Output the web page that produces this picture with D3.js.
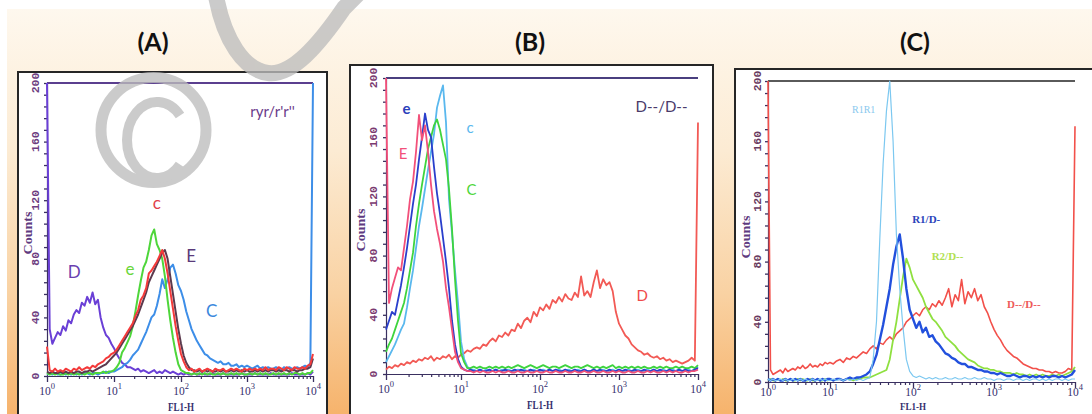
<!DOCTYPE html>
<html>
<head>
<meta charset="utf-8">
<script src="https://cdn.jsdelivr.net/npm/d3@7"></script>
<style>
  html, body { margin: 0; padding: 0; background: #fff; }
  svg { display: block; }
</style>
</head>
<body>
<svg id="chart" width="1092" height="414"></svg>
<script>
// ---------- DATA ----------
// histogram bins: log10(FL1-H) of each channel, 0 .. 4
const CHANNELS = d3.range(101).map(i => +(i * 0.04).toFixed(2));
const DECADES = [1, 10, 100, 1000, 10000];
const X_EXPONENTS = ["0", "1", "2", "3", "4"];
const Y_TICKS = [0, 40, 80, 120, 160, 200];
const PANEL_TITLES = ["(A)", "(B)", "(C)"];

// Panel A : ryr/r'r''
const A_D = [200,32,22,26,30,28,34,31,38,36, 42,45,43,50,48,54,50,57,49,52, 40,33,28,26,22,19,15,12,9,8, 6,6,5,4,5,3,4,3,2,3, 4,2,3,2,4,3,2,3,2,1, 2,1,2,1,1,2,1,1,2,1, 1,1,2,1,1,1,2,1,1,1, 1,1,1,2,1,1,1,1,2,1, 1,1,1,1,2,1,1,1,1,1, 1,1,2,1,1,1,1,1,2,1,3];
const A_C = [1,2,1,2,1,1,2,1,2,1, 2,1,2,1,2,2,1,2,2,1, 2,2,3,2,3,3,4,5,6,8, 9,11,14,16,18,22,26,30,35,40, 42,48,56,66,60,66,74,76,70,62, 58,52,44,38,32,28,24,21,18,15, 14,12,11,10,9,10,8,8,9,7, 7,8,6,7,6,7,6,5,6,7, 5,6,5,6,5,5,6,5,4,6, 5,6,5,5,6,5,6,7,6,9,200];
const A_e = [2,1,2,1,2,1,1,2,1,2, 1,2,1,2,1,2,2,1,2,2, 2,3,2,3,3,4,6,9,16,19, 23,27,34,44,55,65,74,78,86,96, 100,90,86,80,68,52,38,26,16,8, 4,3,2,2,1,2,1,2,1,2, 1,2,1,1,2,1,2,1,1,2, 1,2,1,2,1,1,2,1,2,1, 2,1,2,1,1,2,1,2,1,2, 1,2,1,2,2,1,2,1,2,2,4];
const A_E = [3,2,3,2,2,3,2,3,2,3, 2,3,3,2,3,3,4,3,4,5, 6,7,8,10,12,14,16,19,22,25, 28,31,34,38,42,47,52,57,64,68, 72,76,80,84,86,80,68,56,44,32, 22,14,9,6,4,4,3,4,3,4, 3,4,3,3,4,3,4,3,3,4, 3,4,3,4,3,4,3,3,4,3, 4,3,4,3,4,4,3,4,3,4, 4,3,4,4,3,4,4,5,5,6,12];
const A_c = [20,4,3,5,3,4,3,5,4,3, 5,4,6,4,5,6,5,7,6,8, 9,10,12,13,15,16,18,21,24,27, 30,33,36,41,45,52,55,60,70,72, 75,78,82,86,80,70,58,46,34,24, 15,10,6,4,5,3,4,5,3,4, 5,4,3,5,4,4,5,3,4,5, 4,5,4,3,5,4,5,4,5,4, 5,4,6,4,5,5,4,6,5,4, 6,5,4,6,5,5,6,5,7,8,15];

// Panel B : D--/D--
const B_D = [3,5,4,6,5,7,6,8,7,9, 8,10,9,11,10,12,9,11,10,12, 11,13,10,12,11,13,14,16,15,17, 18,17,20,19,22,24,22,26,25,28, 26,30,29,34,31,36,38,35,42,39, 45,43,47,44,50,48,52,49,54,51, 50,55,52,66,53,56,52,62,70,58, 64,60,62,56,42,34,30,26,24,20, 18,16,15,13,14,12,11,12,10,11, 9,10,8,9,8,7,8,9,11,9,170];
const B_c = [8,12,16,20,25,30,34,45,58,70, 85,100,112,125,138,150,162,180,188,195, 170,118,95,70,48,22,10,5,3,3, 2,3,2,3,2,2,3,2,3,2, 3,2,2,3,2,3,2,2,3,2, 2,3,2,3,2,2,3,2,2,3, 2,2,3,2,3,2,2,3,2,2, 3,2,2,3,2,3,2,2,3,2, 2,3,2,2,3,2,3,2,2,3, 2,2,3,2,3,2,2,3,2,3,5];
const B_C = [15,20,24,30,36,42,48,58,70,82, 100,115,128,140,152,160,168,172,165,155, 145,125,98,64,36,14,8,4,4,5, 4,5,4,4,5,4,5,4,5,4, 5,4,5,6,5,4,5,6,5,4, 5,6,5,4,5,5,4,5,6,5, 4,5,5,4,5,6,5,4,5,4, 5,4,5,6,4,5,4,5,4,5, 4,5,4,5,4,4,5,4,5,4, 5,4,4,5,4,5,4,4,5,4,6];
const B_e = [30,36,42,40,50,60,72,85,100,115, 128,145,160,176,165,160,140,122,108,92, 76,58,36,20,10,5,3,2,3,2, 2,3,2,2,3,2,3,2,2,3, 2,2,3,2,3,2,2,3,2,2, 3,2,2,3,2,3,2,2,3,2, 2,3,2,2,3,2,2,3,2,3, 2,2,3,2,2,3,2,3,2,2, 3,2,2,3,2,2,3,2,3,2, 2,3,2,2,3,2,3,2,2,3,4];
const B_E = [200,48,58,65,72,70,85,100,118,130, 150,175,158,168,150,128,110,98,88,76, 58,45,30,15,8,4,3,2,2,1, 2,1,2,1,1,2,1,2,1,1, 2,1,1,2,1,1,2,1,1,2, 1,1,2,1,1,2,1,1,2,1, 1,2,1,1,2,1,1,2,1,1, 2,1,1,2,1,2,1,1,2,1, 1,2,1,1,2,1,2,1,1,2, 1,2,1,2,1,1,2,1,2,2,3];

// Panel C
const C_DD = [200,8,5,6,7,8,6,9,7,8, 9,8,10,9,11,9,10,12,10,11, 10,12,11,13,12,13,12,14,15,13, 16,15,17,16,18,20,19,22,24,22, 26,25,28,30,28,32,34,36,40,42, 44,46,44,48,50,48,52,50,54,51, 56,62,50,58,54,68,52,60,56,62, 54,58,50,46,40,35,31,28,24,21, 19,17,16,14,12,11,10,9,9,8, 8,7,7,6,7,6,6,7,9,8,170];
const C_R2D = [1,2,1,1,2,1,2,1,1,2, 1,1,2,1,2,1,1,2,1,1, 2,1,1,2,1,2,1,2,2,1, 2,2,1,2,2,3,3,3,4,5, 6,7,8,15,28,40,55,70,82,76, 68,64,60,56,50,46,42,40,37,34, 30,28,26,24,21,19,17,15,14,13, 11,10,9,9,8,8,7,7,6,6, 6,5,6,5,5,4,5,4,5,4, 5,4,4,5,4,5,4,5,6,7,10];
const C_R1D = [2,1,2,1,2,1,1,2,1,2, 1,2,1,2,1,1,2,1,2,1, 2,1,2,1,2,2,1,2,2,1, 2,3,2,3,3,4,5,7,12,18, 28,38,50,62,78,90,98,82,62,48, 42,36,40,33,36,30,31,27,25,22, 19,18,16,15,13,12,12,10,10,9, 8,8,7,7,6,6,5,6,5,4, 4,5,4,3,4,4,3,4,3,4, 3,4,3,4,4,3,4,3,4,5,8];
const C_R1R1 = [2,1,2,1,1,2,1,2,1,1, 2,1,1,2,1,2,1,1,2,1, 1,2,1,2,1,1,2,1,2,1, 2,1,2,1,2,1,2,3,15,40, 95,145,180,200,160,98,62,36,15,7, 4,3,4,3,2,3,2,3,2,2, 3,2,2,3,2,2,3,2,2,3, 2,2,3,2,2,1,2,2,1,2, 2,1,2,2,1,2,1,2,2,1, 2,1,2,1,2,2,1,2,1,2,2];

const A_LABELS = ["ryr/r'r''", "D", "e", "c", "E", "C"];
const B_LABELS = ["D--/D--", "e", "E", "c", "C", "D"];
const C_LABELS = ["R1R1", "R1/D-", "R2/D--", "D--/D--"];

// ---------- LAYOUT / STYLE ----------
const W = 1092, H = 414;
const svg = d3.select("#chart");
const defs = svg.append("defs");
const grad = defs.append("linearGradient").attr("id", "bg")
  .attr("x1", 0).attr("y1", 0).attr("x2", 0).attr("y2", 1);
[[0, "#fef8ee"], [0.35, "#fcebd3"], [0.7, "#f9d2a3"], [1, "#f6b36c"]]
  .forEach(([o, c]) => grad.append("stop").attr("offset", o).attr("stop-color", c));

svg.append("rect").attr("width", W).attr("height", H).attr("fill", "#fff");
svg.append("rect").attr("x", 7).attr("y", 9).attr("width", W - 7).attr("height", H - 9).attr("fill", "url(#bg)");

const SERIF = "'Liberation Serif', 'DejaVu Serif', serif";
const SANS = "Lato, 'Open Sans', sans-serif";
const MONO = "'Liberation Mono', 'DejaVu Sans Mono', monospace";

const panels = [
  {
    title: PANEL_TITLES[0], titleX: 153,
    box: [18, 72, 309], xr: [47, 114, 181, 247, 313], yr: [376, 83],
    frame: "#5b3f8f", ylabX: 35, ylabColor: "#6d3c80", countsX: 27, countsY: 233,
    xlabY: 395, flY: 411, flSize: 12,
    series: [
      { v: A_D, c: "#6a3fd6", w: 2 },
      { v: A_C, c: "#3d8ee8", w: 2 },
      { v: A_e, c: "#4ed63a", w: 2 },
      { v: A_E, c: "#5c3a4e", w: 2 },
      { v: A_c, c: "#f43a3a", w: 2 }
    ],
    labels: [
      { t: A_LABELS[0], lx: 3.05, c: 177, col: "#6a3a8a", f: SANS, s: 15, wt: 400 },
      { t: A_LABELS[1], lx: 0.31, c: 67, col: "#6a3fb0", f: SANS, s: 17, wt: 400 },
      { t: A_LABELS[2], lx: 1.17, c: 69, col: "#6ad63a", f: SANS, s: 17, wt: 400 },
      { t: A_LABELS[3], lx: 1.58, c: 114, col: "#e0404a", f: SANS, s: 17, wt: 400 },
      { t: A_LABELS[4], lx: 2.08, c: 78, col: "#5a3a7a", f: SANS, s: 17, wt: 400 },
      { t: A_LABELS[5], lx: 2.38, c: 40, col: "#3a88dd", f: SANS, s: 17, wt: 400 }
    ]
  },
  {
    title: PANEL_TITLES[1], titleX: 530,
    box: [350, 65, 363], xr: [386, 461, 540, 619, 698], yr: [374, 78],
    frame: "#4a3f7f", ylabX: 373, ylabColor: "#7a3a70", countsX: 360, countsY: 230,
    xlabY: 393, flY: 409, flSize: 12,
    series: [
      { v: B_D, c: "#f25a55", w: 1.8 },
      { v: B_c, c: "#5ab8ee", w: 1.8 },
      { v: B_C, c: "#3ed43e", w: 1.8 },
      { v: B_e, c: "#2a3fcc", w: 1.8 },
      { v: B_E, c: "#f2507a", w: 1.8 }
    ],
    labels: [
      { t: B_LABELS[0], lx: 3.21, c: 177, col: "#4a3a6a", f: SANS, s: 15, wt: 400 },
      { t: B_LABELS[1], lx: 0.22, c: 176, col: "#2a3fbb", f: SANS, s: 15, wt: 700 },
      { t: B_LABELS[2], lx: 0.17, c: 145, col: "#f2507a", f: SANS, s: 15, wt: 400 },
      { t: B_LABELS[3], lx: 1.07, c: 163, col: "#5ab8ee", f: SANS, s: 15, wt: 400 },
      { t: B_LABELS[4], lx: 1.07, c: 121, col: "#4ed63a", f: SANS, s: 15, wt: 400 },
      { t: B_LABELS[5], lx: 3.22, c: 49, col: "#f04a4a", f: SANS, s: 15, wt: 400 }
    ]
  },
  {
    title: PANEL_TITLES[2], titleX: 915,
    box: [735, 69, 400], xr: [768, 830, 913, 994, 1075], yr: [382, 81],
    frame: "#5a5a5a", ylabX: 757, ylabColor: "#6a3a60", countsX: 745, countsY: 237,
    xlabY: 396, flY: 410, flSize: 10,
    series: [
      { v: C_DD, c: "#f2504a", w: 1.6 },
      { v: C_R2D, c: "#8fe040", w: 1.8 },
      { v: C_R1D, c: "#2250dd", w: 2.4 },
      { v: C_R1R1, c: "#7cc8f0", w: 1.2 }
    ],
    labels: [
      { t: C_LABELS[0], lx: 1.265, c: 179, col: "#88c8ee", f: SERIF, s: 10, wt: 400 },
      { t: C_LABELS[1], lx: 1.99, c: 105.5, col: "#2a44bb", f: SERIF, s: 11, wt: 700 },
      { t: C_LABELS[2], lx: 2.23, c: 81, col: "#b0e050", f: SERIF, s: 11, wt: 700 },
      { t: C_LABELS[3], lx: 3.16, c: 49, col: "#ee5a5a", f: SERIF, s: 11, wt: 700 }
    ]
  }
];

const X_MINOR = [];
[1, 10, 100, 1000].forEach(d => { for (let m = 2; m <= 9; m++) X_MINOR.push(m * d); });
const Y_MINOR = d3.range(0, 201, 8);

function drawPanel(p) {
  const g = svg.append("g");
  // title
  svg.append("text").attr("x", p.titleX).attr("y", 51).attr("text-anchor", "middle")
    .attr("font-family", SANS).attr("font-weight", 700).attr("font-size", 25)
    .attr("fill", "#111").text(p.title);
  // outer framed box
  g.append("rect").attr("x", p.box[0]).attr("y", p.box[1]).attr("width", p.box[2]).attr("height", 460)
    .attr("fill", "#fff").attr("stroke", "#262626").attr("stroke-width", 2);

  const x = d3.scaleLog().domain(DECADES).range(p.xr);
  const y = d3.scaleLinear().domain([0, 200]).range(p.yr).clamp(true);

  // top frame
  g.append("line").attr("x1", x(1)).attr("x2", x(1e4)).attr("y1", y(200)).attr("y2", y(200))
    .attr("stroke", p.frame).attr("stroke-width", 2);

  // y axis
  const ya = g.append("g").attr("transform", `translate(${x(1)},0)`)
    .call(d3.axisLeft(y).tickValues(Y_MINOR).tickSize(3).tickSizeOuter(0).tickFormat(""));
  ya.select(".domain").attr("stroke", "#3a3060").attr("stroke-width", 1.2);
  ya.selectAll(".tick line").attr("stroke", "#3a3060").attr("stroke-width", 1.3);

  // x axis
  const xa1 = g.append("g").attr("transform", `translate(0,${y(0)})`)
    .call(d3.axisBottom(x).tickValues(X_MINOR).tickSize(3).tickSizeOuter(0).tickFormat(""));
  xa1.select(".domain").attr("stroke", "#3a3060").attr("stroke-width", 1.2);
  xa1.selectAll(".tick line").attr("stroke", "#3a3060").attr("stroke-width", 1.2);
  const xa2 = g.append("g").attr("transform", `translate(0,${y(0)})`)
    .call(d3.axisBottom(x).tickValues(DECADES).tickSize(6).tickSizeOuter(0).tickFormat(""));
  xa2.select(".domain").remove();
  xa2.selectAll(".tick line").attr("stroke", "#3a3060").attr("stroke-width", 1.3);

  // y tick labels (rotated)
  g.selectAll(".ylab").data(Y_TICKS).join("text")
    .attr("transform", d => `translate(${p.ylabX},${y(d)}) rotate(-90)`)
    .attr("dy", "0.35em").attr("text-anchor", "middle")
    .attr("font-family", MONO).attr("font-weight", 700).attr("font-size", 11.5)
    .attr("fill", p.ylabColor).text(d => d);

  // Counts
  g.append("text").attr("transform", `translate(${p.countsX},${p.countsY}) rotate(-90)`)
    .attr("dy", "0.35em").attr("text-anchor", "middle")
    .attr("font-family", SERIF).attr("font-weight", 700).attr("font-size", 13)
    .attr("textLength", 43).attr("lengthAdjust", "spacingAndGlyphs")
    .attr("fill", "#5e3a80").text("Counts");

  // x tick labels 10^k
  const xl = g.selectAll(".xlab").data(DECADES).join("text")
    .attr("x", d => x(d)).attr("y", p.xlabY).attr("text-anchor", "middle")
    .attr("font-family", SERIF).attr("font-size", 11.5).attr("fill", "#35306e");
  xl.append("tspan").text("10");
  xl.append("tspan").attr("dy", -6).attr("font-size", 8.5).text((d, i) => X_EXPONENTS[i]);

  // FL1-H
  g.append("text").attr("x", x(100)).attr("y", p.flY).attr("text-anchor", "middle")
    .attr("font-family", SERIF).attr("font-weight", 700).attr("font-size", p.flSize)
    .attr("textLength", 26).attr("lengthAdjust", "spacingAndGlyphs")
    .attr("fill", "#35306e").text("FL1-H");

  // histogram curves
  const line = d3.line()
    .x((d, i) => x(Math.pow(10, CHANNELS[i])))
    .y(d => y(d));
  p.series.forEach(s => {
    g.append("path").attr("d", line(s.v)).attr("fill", "none")
      .attr("stroke", s.c).attr("stroke-width", s.w)
      .attr("stroke-linejoin", "round").attr("stroke-linecap", "butt");
  });

  // curve labels
  p.labels.forEach(l => {
    g.append("text").attr("x", x(Math.pow(10, l.lx))).attr("y", y(l.c))
      .attr("font-family", l.f).attr("font-size", l.s).attr("font-weight", l.wt)
      .attr("fill", l.col).text(l.t);
  });
}

panels.forEach(drawPanel);

// ---------- watermark (copyright ring + large stroke) ----------
const wm = svg.append("g").attr("opacity", 0.78).attr("fill", "none").attr("stroke", "#bdbdbd");
wm.append("circle").attr("cx", 153.5).attr("cy", 130).attr("r", 52.5).attr("stroke-width", 11);
wm.append("path").attr("d", "M 180 115.6 A 30 38 0 1 0 180 164.4").attr("stroke-width", 10);
wm.append("path")
  .attr("d", "M 216 -4 C 224 40, 244 70, 268 73 C 292 76, 318 46, 344 8 L 360 -8")
  .attr("stroke-width", 16);
</script>
</body>
</html>
